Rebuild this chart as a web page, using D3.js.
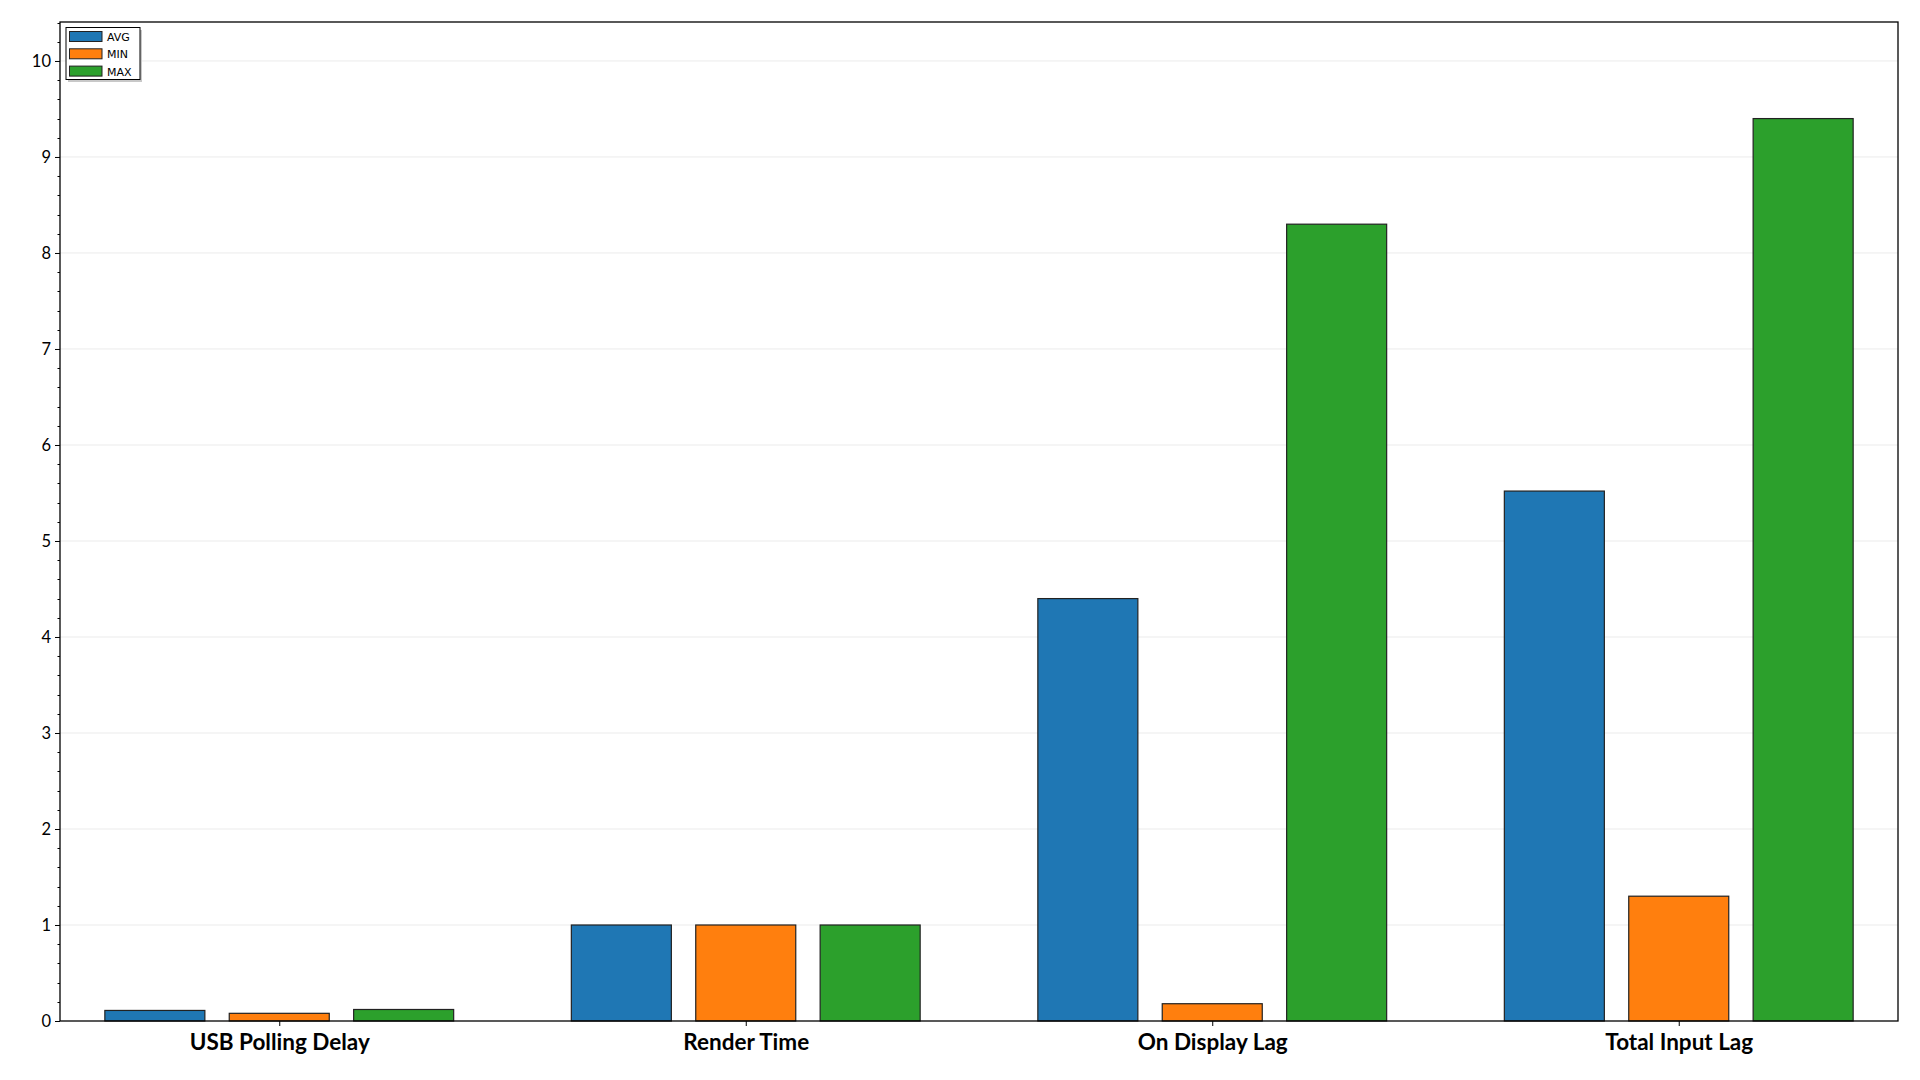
<!DOCTYPE html>
<html>
<head>
<meta charset="utf-8">
<script src="https://cdn.jsdelivr.net/npm/d3@7"></script>
<style>
html,body{margin:0;padding:0;background:#fff;}
svg{display:block;}
</style>
</head>
<body>
<svg id="chart" width="1920" height="1080"></svg>
<script>
const categories = ["USB Polling Delay", "Render Time", "On Display Lag", "Total Input Lag"];
const seriesNames = ["AVG", "MIN", "MAX"];
const avgValues = [0.11, 1.0, 4.4, 5.52];
const minValues = [0.08, 1.0, 0.18, 1.3];
const maxValues = [0.12, 1.0, 8.3, 9.4];
const seriesColors = ["#1f77b4", "#ff7f0e", "#2ca02c"];
const yTicks = [0,1,2,3,4,5,6,7,8,9,10];

const series = [avgValues, minValues, maxValues];

const svg = d3.select("#chart");
const pLeft = 60, pRight = 1898, pTop = 22, pBottom = 1021;

const x = d3.scaleLinear().domain([-0.47, categories.length - 1 + 0.47]).range([pLeft, pRight]);
const y = d3.scaleLinear().domain([0, 10.406]).range([pBottom, pTop]);

const barOffset = 0.8 / 3;
const barWidth = 0.2144;

// gridlines
svg.append("g")
  .selectAll("line").data(yTicks.filter(d => d > 0)).join("line")
  .attr("x1", pLeft).attr("x2", pRight)
  .attr("y1", d => y(d)).attr("y2", d => y(d))
  .attr("stroke", "#ebebeb").attr("stroke-width", 1);

// bars
const gBars = svg.append("g");
series.forEach((vals, si) => {
  gBars.selectAll(null).data(vals).join("rect")
    .attr("x", (d, i) => x(i + (si - 1) * barOffset - barWidth / 2))
    .attr("width", x(barWidth) - x(0))
    .attr("y", d => y(d))
    .attr("height", d => y(0) - y(d))
    .attr("fill", seriesColors[si])
    .attr("stroke", "#222")
    .attr("stroke-width", 1.2);
});

// y axis minor ticks
const minor = d3.range(0, 10.41, 0.2).filter(v => Math.abs(v - Math.round(v)) > 1e-6);
svg.append("g")
  .selectAll("line").data(minor).join("line")
  .attr("x1", pLeft - 2.5).attr("x2", pLeft)
  .attr("y1", d => Math.round(y(d)) + 0.5).attr("y2", d => Math.round(y(d)) + 0.5)
  .attr("stroke", "#000").attr("stroke-width", 1);

// y axis
const yAxis = d3.axisLeft(y).tickValues(yTicks).tickFormat(d3.format("d")).tickSize(5).tickPadding(4);
const gy = svg.append("g").attr("transform", `translate(${pLeft},0)`).call(yAxis);
gy.select(".domain").remove();
gy.selectAll("text").attr("font-family", "Lato, 'Open Sans', sans-serif").attr("font-size", 16.5).attr("fill", "#000");

// x axis
const xAxis = d3.axisBottom(x).tickValues(d3.range(categories.length)).tickFormat(i => categories[i]).tickSize(5).tickPadding(8);
const gx = svg.append("g").attr("transform", `translate(0,${pBottom})`).call(xAxis);
gx.select(".domain").remove();
gx.selectAll("text").attr("font-family", "Lato, 'Open Sans', sans-serif").attr("font-size", 22.5).attr("font-weight", "bold").attr("fill", "#000");

// frame
svg.append("rect").attr("x", pLeft).attr("y", pTop).attr("width", pRight - pLeft).attr("height", pBottom - pTop)
  .attr("fill", "none").attr("stroke", "#000").attr("stroke-width", 1.3);

// legend
const lg = svg.append("g");
lg.append("rect").attr("x", 68).attr("y", 30).attr("width", 74).attr("height", 52).attr("fill", "#c8c8c8");
lg.append("rect").attr("x", 66).attr("y", 27.5).attr("width", 74).attr("height", 52).attr("fill", "#fff").attr("stroke", "#000").attr("stroke-width", 1);
seriesNames.forEach((n, i) => {
  lg.append("rect").attr("x", 69.5).attr("y", 31.5 + i * 17.3).attr("width", 32.5).attr("height", 10)
    .attr("fill", seriesColors[i]).attr("stroke", "#222").attr("stroke-width", 1);
  lg.append("text").attr("x", 107).attr("y", 41 + i * 17.3).text(n)
    .attr("font-family", "'DejaVu Sans', sans-serif").attr("font-size", 11).attr("fill", "#000");
});
</script>
</body>
</html>
